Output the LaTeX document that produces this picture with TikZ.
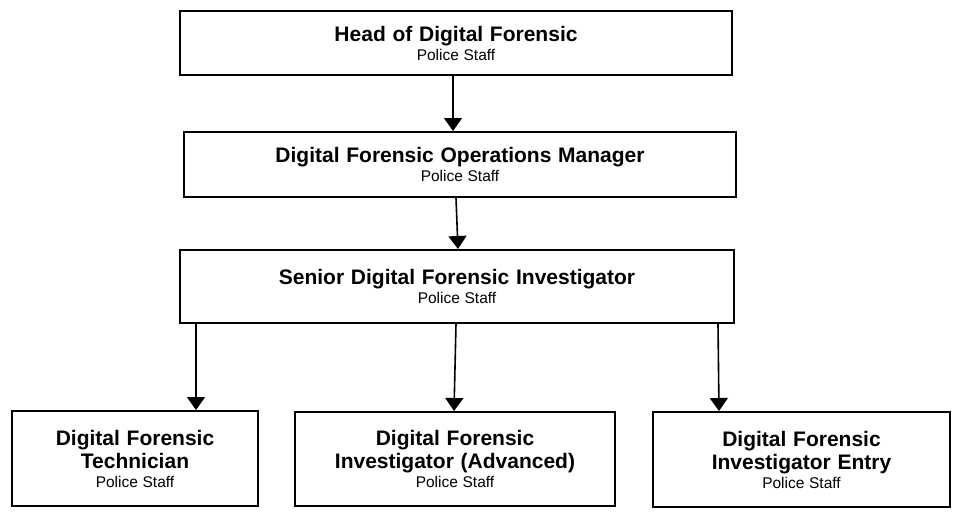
\documentclass[tikz,border=0pt]{standalone}
\usepackage{fontspec}
\setmainfont{Liberation Sans}
\usetikzlibrary{arrows.meta}
\newcommand{\ttl}[1]{{\fontsize{21}{23}\bfseries\spaceskip=0.32em\relax #1\par}}
\newcommand{\sub}[1]{{\fontsize{15.5}{19}\selectfont\spaceskip=0.3em\relax #1\par}}
\tikzset{
  box/.style={draw=black, line width=2pt, fill=white, rectangle, inner sep=0pt, align=center},
  arr/.style={line width=1.6pt, -{Triangle[length=13pt,width=18pt]}}
}
\begin{document}
\begin{tikzpicture}[x=1pt,y=-1pt]
\useasboundingbox (0,0) rectangle (953,517);
\fill[white] (0,0) rectangle (953,517);
\node[box, text width=540pt, minimum width=552pt, minimum height=64pt] (b1) at (456,43)
  {\ttl{Head of Digital Forensic}\sub{Police Staff}};
\node[box, text width=540pt, minimum width=552pt, minimum height=65pt] (b2) at (460,164.5)
  {\ttl{Digital Forensic Operations Manager}\sub{Police Staff}};
\node[box, text width=540pt, minimum width=554pt, minimum height=73pt] (b3) at (457,286.5)
  {\ttl{Senior Digital Forensic Investigator}\sub{Police Staff}};
\node[box, text width=236pt, minimum width=246pt, minimum height=95pt] (b4) at (135,458.5)
  {\ttl{Digital Forensic\\Technician}\sub{Police Staff}};
\node[box, text width=310pt, minimum width=320pt, minimum height=94pt] (b5) at (455,459)
  {\ttl{Digital Forensic\\Investigator (Advanced)}\sub{Police Staff}};
\node[box, text width=287pt, minimum width=297pt, minimum height=95pt] (b6) at (801.5,459.5)
  {\ttl{Digital Forensic\\Investigator Entry}\sub{Police Staff}};
\draw[arr] (453,0 |- b1.south) -- (453,0 |- b2.north);
\draw[arr] (456,0 |- b2.south) -- (458,0 |- b3.north);
\draw[arr] (196,0 |- b3.south) -- (196,0 |- b4.north);
\draw[arr] (456,0 |- b3.south) -- (454,0 |- b5.north);
\draw[arr] (718,0 |- b3.south) -- (719,0 |- b6.north);
\end{tikzpicture}
\end{document}
